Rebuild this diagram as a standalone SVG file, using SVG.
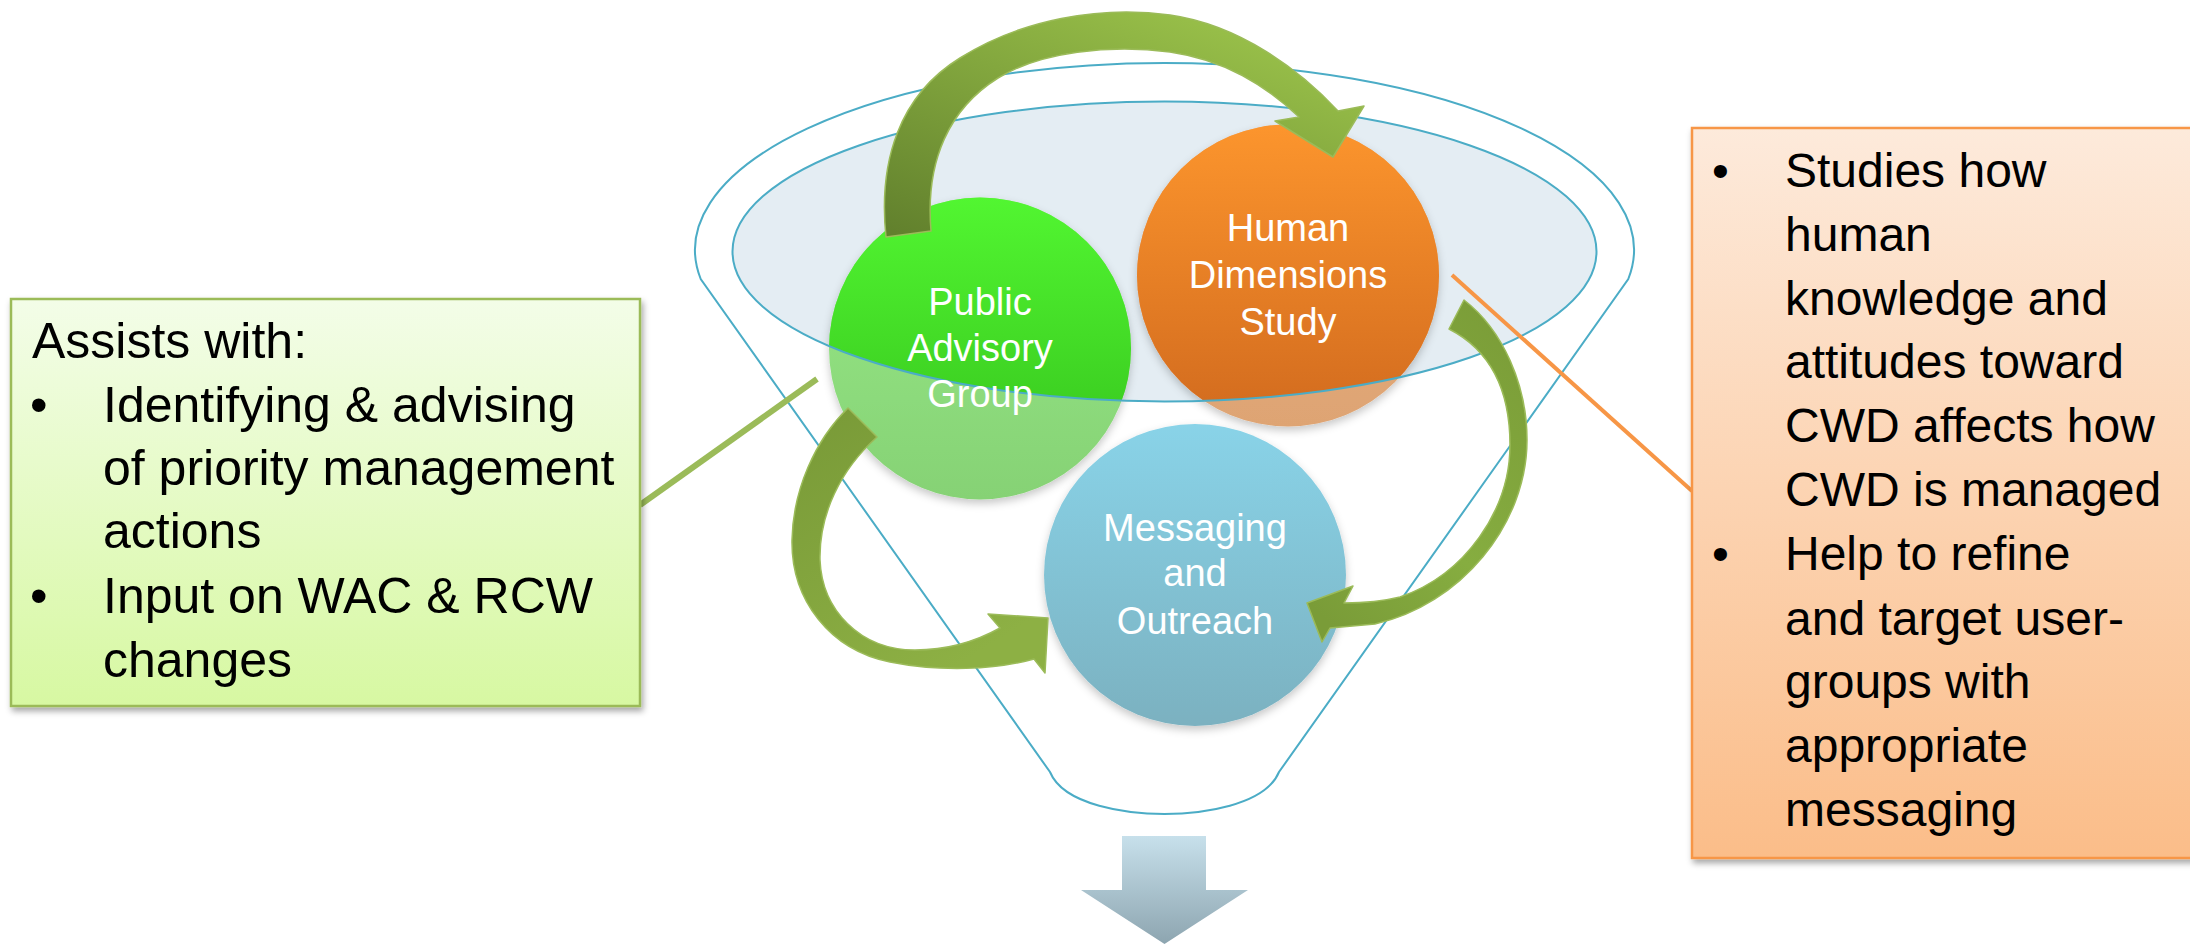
<svg xmlns="http://www.w3.org/2000/svg" width="2190" height="946" viewBox="0 0 2190 946">
<style>
.funnel{fill:none;stroke:#4BACC6;stroke-width:2}
.ctext{font-family:"Liberation Sans",Arial,sans-serif;font-size:38px;fill:#FFFFFF;text-anchor:middle}
.btext{font-family:"Liberation Sans",Arial,sans-serif;fill:#000000}
.arrow{stroke:#9BBB59;stroke-width:1.5;stroke-linejoin:round}
</style>
<defs>
<linearGradient id="gGreen" x1="0" y1="197" x2="0" y2="499" gradientUnits="userSpaceOnUse"><stop offset="0" stop-color="#52F631"/><stop offset="1" stop-color="#33BF1B"/></linearGradient>
<linearGradient id="gGreenPale" x1="0" y1="197" x2="0" y2="499" gradientUnits="userSpaceOnUse"><stop offset="0" stop-color="#98EA88"/><stop offset="1" stop-color="#86D275"/></linearGradient>
<linearGradient id="gOrange" x1="0" y1="125" x2="0" y2="427" gradientUnits="userSpaceOnUse"><stop offset="0" stop-color="#FC952D"/><stop offset="1" stop-color="#D16A1E"/></linearGradient>
<linearGradient id="gOrangePale" x1="0" y1="125" x2="0" y2="427" gradientUnits="userSpaceOnUse"><stop offset="0" stop-color="#E8B080"/><stop offset="1" stop-color="#DEA473"/></linearGradient>
<linearGradient id="gBlue" x1="0" y1="424" x2="0" y2="726" gradientUnits="userSpaceOnUse"><stop offset="0" stop-color="#89D3E8"/><stop offset="1" stop-color="#7BB1C0"/></linearGradient>
<linearGradient id="gLeftBox" x1="0" y1="0" x2="0" y2="1"><stop offset="0" stop-color="#F3FDE8"/><stop offset="1" stop-color="#D7F8A2"/></linearGradient>
<linearGradient id="gRightBox" x1="0" y1="0" x2="0" y2="1"><stop offset="0" stop-color="#FDEADB"/><stop offset="1" stop-color="#FBBD89"/></linearGradient>
<linearGradient id="gDown" x1="0" y1="0" x2="0" y2="1"><stop offset="0" stop-color="#C7E0EB"/><stop offset="1" stop-color="#8DA5B0"/></linearGradient>
<linearGradient id="gArrowTop" x1="0.85" y1="0" x2="0.05" y2="1"><stop offset="0" stop-color="#9EC64C"/><stop offset="1" stop-color="#62812D"/></linearGradient>
<linearGradient id="gArrowLeft" x1="0" y1="0" x2="0.6" y2="1"><stop offset="0" stop-color="#789937"/><stop offset="1" stop-color="#8DB044"/></linearGradient>
<linearGradient id="gArrowRight" x1="0.8" y1="0" x2="0.2" y2="1"><stop offset="0" stop-color="#7B9D38"/><stop offset="0.6" stop-color="#86AD40"/><stop offset="1" stop-color="#7A9C38"/></linearGradient>
<clipPath id="clipInner"><ellipse cx="1164.5" cy="251.5" rx="432" ry="150"/></clipPath>
<filter id="shadow" x="-10%" y="-10%" width="130%" height="130%"><feDropShadow dx="2" dy="4" stdDeviation="3" flood-color="#000" flood-opacity="0.35"/></filter>
<filter id="cshadow" x="-10%" y="-10%" width="120%" height="125%"><feDropShadow dx="0" dy="4" stdDeviation="4" flood-color="#000" flood-opacity="0.22"/></filter>
</defs>
<rect width="2190" height="946" fill="#FFFFFF"/>

<g id="funnel">
<path class="funnel" d="M 700.7,279 A 469.5,187 0 1 1 1628.3,279 L 1279,772 C 1265,806 1200,814 1164.5,814 C 1129,814 1064,806 1050,772 Z"/>
<ellipse cx="1164.5" cy="251.5" rx="432" ry="150" fill="#E4EDF3"/>
</g>

<g id="node-public">
<circle cx="980" cy="348.5" r="151" fill="url(#gGreenPale)" filter="url(#cshadow)"/>
<circle cx="980" cy="348.5" r="151" fill="url(#gGreen)" clip-path="url(#clipInner)"/>
</g>
<g id="node-human">
<circle cx="1288" cy="275.5" r="151" fill="url(#gOrangePale)" filter="url(#cshadow)"/>
<circle cx="1288" cy="275.5" r="151" fill="url(#gOrange)" clip-path="url(#clipInner)"/>
</g>
<g id="node-messaging">
<circle cx="1195" cy="575" r="151" fill="url(#gBlue)" filter="url(#cshadow)"/>
<text class="ctext" x="1195" y="540.6">Messaging</text>
<text class="ctext" x="1195" y="586">and</text>
<text class="ctext" x="1195" y="633.5">Outreach</text>
</g>
<ellipse class="funnel" cx="1164.5" cy="251.5" rx="432" ry="150"/>
<g id="node-public-label">
<text class="ctext" x="980" y="314.7">Public</text>
<text class="ctext" x="980" y="360.7">Advisory</text>
<text class="ctext" x="980" y="407">Group</text>
</g>
<g id="node-human-label">
<text class="ctext" x="1288" y="241">Human</text>
<text class="ctext" x="1288" y="288">Dimensions</text>
<text class="ctext" x="1288" y="335">Study</text>
</g>

<g id="connectors">
<path class="arrow" fill="url(#gArrowTop)" d="M 886,237 C 878,160 900,95 960,58 C 1020,20 1100,5 1170,15 C 1240,25 1300,70 1338,111 L 1364,106 L 1333,157 L 1275,121 L 1299,117 C 1265,85 1225,60 1170,52 C 1110,44 1040,52 998,78 C 950,108 925,160 931,231 Z"/>
<path class="arrow" fill="url(#gArrowLeft)" d="M 848,408 C 815,440 793,490 792,540 C 791,600 830,650 890,662 C 940,672 995,670 1034,659 L 1045,673 L 1048,618 L 988,614 L 1000,628 C 975,642 945,650 915,650 C 860,650 822,610 820,560 C 819,515 840,470 877,437 Z"/>
<path class="arrow" fill="url(#gArrowRight)" d="M 1464,300 C 1503,330 1527,385 1527,440 C 1527,525 1460,605 1375,624 L 1330,628 L 1322,642 L 1307,603 L 1353,586 L 1344,603 C 1360,603 1380,602 1400,597 C 1465,575 1510,510 1510,445 C 1510,390 1490,350 1449,329 Z"/>
<line x1="640" y1="505" x2="817" y2="379" stroke="#9BBB59" stroke-width="6"/>
<line x1="1452" y1="275" x2="1692" y2="491" stroke="#F79646" stroke-width="4"/>
</g>

<g id="down-arrow">
<path fill="url(#gDown)" d="M 1122,836 L 1206,836 L 1206,890 L 1248,890 L 1164.5,944 L 1081,890 L 1122,890 Z"/>
</g>

<g id="box-left">
<rect x="11" y="299" width="629" height="407" fill="url(#gLeftBox)" stroke="#9BBB59" stroke-width="2.5" filter="url(#shadow)"/>
<g class="btext" font-size="50">
<text x="32" y="358">Assists with:</text>
<text x="30" y="422">•</text>
<text x="103" y="422">Identifying &amp; advising</text>
<text x="103" y="485">of priority management</text>
<text x="103" y="548">actions</text>
<text x="30" y="613">•</text>
<text x="103" y="613">Input on WAC &amp; RCW</text>
<text x="103" y="677">changes</text>
</g>
</g>

<g id="box-right">
<rect x="1692" y="128" width="520" height="730" fill="url(#gRightBox)" stroke="#F79646" stroke-width="2.5" filter="url(#shadow)"/>
<g class="btext" font-size="48">
<text x="1712" y="187">•</text>
<text x="1785" y="187">Studies how</text>
<text x="1785" y="251">human</text>
<text x="1785" y="315">knowledge and</text>
<text x="1785" y="378">attitudes toward</text>
<text x="1785" y="442">CWD affects how</text>
<text x="1785" y="506">CWD is managed</text>
<text x="1712" y="570">•</text>
<text x="1785" y="570">Help to refine</text>
<text x="1785" y="635">and target user-</text>
<text x="1785" y="698">groups with</text>
<text x="1785" y="762">appropriate</text>
<text x="1785" y="826">messaging</text>
</g>
</g>
</svg>
